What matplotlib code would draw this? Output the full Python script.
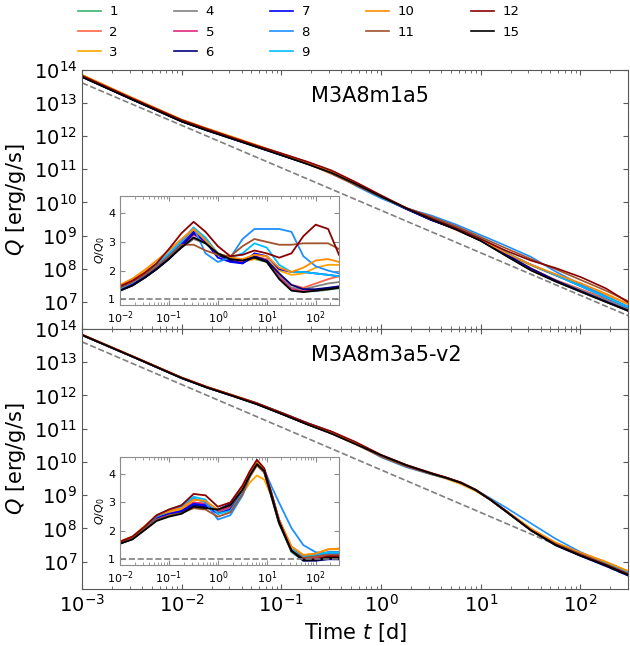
"""Heating rate Q(t) for two models, each with a Q/Q0 inset."""
import matplotlib
matplotlib.use("Agg")
import matplotlib.pyplot as plt
import numpy as np

LABELS = ["1", "2", "3", "4", "5", "6", "7", "8", "9", "10", "11", "12", "15"]
COLORS = ["mediumseagreen", "tomato", "orange", "grey", "#e0287a", "navy",
          "blue", "dodgerblue", "deepskyblue", "darkorange", "sienna",
          "darkred", "black"]

# reference power law Q0 (grey dashed line), end points
Q0_T = [1e-3, 300.0]
Q0_Q = [4.1e13, 3.8e6]

# ---- M3A8m1a5: Q/Q0 per model ----
TOP_T = [0.001, 0.0032, 0.01, 0.018, 0.032, 0.056, 0.1, 0.18, 0.32, 0.56,
         1.0, 1.8, 3.2, 5.6, 10, 18, 32, 56, 100, 180, 300]
TOP_RATIO = [
    [1.55, 1.4, 1.3, 1.5, 1.75, 2.05, 2.45, 2.85, 3.15, 2.95, 2.6, 2.4, 2.35, 2.4, 2.3, 1.75, 1.35, 1.27, 1.28, 1.33, 1.38],
    [1.6, 1.45, 1.38, 1.58, 1.85, 2.15, 2.55, 2.95, 3.3, 3.05, 2.6, 2.4, 2.35, 2.5, 2.4, 1.85, 1.5, 1.4, 1.55, 1.7, 1.8],
    [1.72, 1.55, 1.45, 1.65, 1.95, 2.25, 2.6, 3.0, 3.4, 3.1, 2.55, 2.35, 2.3, 2.4, 2.35, 2.0, 1.85, 1.9, 2.1, 2.2, 2.2],
    [1.55, 1.42, 1.33, 1.52, 1.8, 2.1, 2.45, 2.8, 3.1, 2.95, 2.6, 2.4, 2.35, 2.45, 2.35, 1.8, 1.4, 1.35, 1.45, 1.55, 1.6],
    [1.55, 1.4, 1.32, 1.52, 1.78, 2.08, 2.45, 2.85, 3.25, 3.0, 2.55, 2.35, 2.3, 2.45, 2.35, 1.75, 1.35, 1.28, 1.3, 1.35, 1.4],
    [1.5, 1.38, 1.3, 1.48, 1.75, 2.05, 2.4, 2.85, 3.3, 3.05, 2.55, 2.35, 2.25, 2.5, 2.35, 1.9, 1.5, 1.35, 1.35, 1.4, 1.45],
    [1.55, 1.42, 1.35, 1.55, 1.8, 2.1, 2.5, 2.9, 3.35, 3.0, 2.45, 2.3, 2.25, 2.6, 2.5, 2.05, 1.95, 1.95, 1.9, 1.85, 1.8],
    [1.6, 1.45, 1.38, 1.58, 1.85, 2.15, 2.55, 3.0, 3.5, 2.6, 2.3, 2.45, 3.1, 3.45, 3.45, 3.45, 3.35, 2.5, 2.15, 2.0, 1.9],
    [1.6, 1.45, 1.38, 1.6, 1.88, 2.2, 2.6, 3.05, 3.5, 3.15, 2.6, 2.45, 2.6, 2.95, 2.8, 2.2, 1.95, 1.95, 1.9, 1.85, 1.8],
    [1.75, 1.58, 1.5, 1.72, 2.02, 2.35, 2.7, 3.1, 3.45, 3.05, 2.6, 2.45, 2.4, 2.55, 2.5, 2.1, 1.95, 2.1, 2.35, 2.4, 2.3],
    [1.6, 1.45, 1.4, 1.6, 1.85, 2.15, 2.5, 2.9, 2.9, 2.7, 2.55, 2.5, 2.85, 3.1, 3.0, 2.9, 2.9, 2.95, 2.95, 2.95, 2.75],
    [1.65, 1.5, 1.45, 1.65, 1.92, 2.25, 2.75, 3.3, 3.7, 3.35, 2.85, 2.5, 2.55, 2.7, 2.6, 2.45, 2.6, 3.2, 3.6, 3.45, 2.55],
    [1.5, 1.38, 1.3, 1.48, 1.75, 2.05, 2.4, 2.8, 3.15, 2.95, 2.6, 2.4, 2.35, 2.45, 2.3, 1.7, 1.3, 1.25, 1.3, 1.35, 1.4],
]

# ---- M3A8m3a5-v2: Q/Q0 per model ----
BOT_T = [0.001, 0.0032, 0.01, 0.018, 0.032, 0.056, 0.1, 0.18, 0.32, 0.56,
         1.0, 1.8, 3.2, 4.5, 6.3, 8.9, 12.6, 17.8, 32, 56, 100, 180, 300]
BOT_RATIO = [
    [1.6, 1.6, 1.56, 1.72, 2.05, 2.4, 2.55, 2.65, 2.95, 2.9, 2.7, 2.85, 3.4, 3.95, 4.35, 4.05, 3.15, 2.25, 1.25, 0.95, 0.97, 1.05, 1.05],
    [1.62, 1.62, 1.58, 1.75, 2.1, 2.45, 2.6, 2.7, 3.0, 2.95, 2.7, 2.85, 3.45, 4.0, 4.4, 4.1, 3.25, 2.35, 1.35, 1.05, 1.05, 1.15, 1.15],
    [1.66, 1.66, 1.62, 1.8, 2.15, 2.5, 2.65, 2.75, 3.1, 3.05, 2.65, 2.75, 3.3, 3.7, 3.95, 3.8, 3.2, 2.4, 1.45, 1.15, 1.2, 1.35, 1.35],
    [1.6, 1.6, 1.57, 1.73, 2.07, 2.42, 2.55, 2.65, 2.95, 2.9, 2.65, 2.8, 3.4, 3.95, 4.35, 4.05, 3.2, 2.3, 1.3, 1.05, 1.1, 1.2, 1.2],
    [1.6, 1.6, 1.57, 1.73, 2.07, 2.42, 2.58, 2.68, 3.0, 2.95, 2.7, 2.85, 3.45, 4.0, 4.4, 4.1, 3.25, 2.3, 1.3, 1.0, 1.05, 1.1, 1.1],
    [1.6, 1.6, 1.55, 1.72, 2.05, 2.4, 2.55, 2.65, 2.9, 2.85, 2.75, 2.95, 3.5, 4.0, 4.4, 4.1, 3.2, 2.3, 1.3, 0.95, 0.95, 1.0, 1.0],
    [1.62, 1.62, 1.58, 1.75, 2.1, 2.45, 2.6, 2.7, 2.95, 2.9, 2.6, 2.75, 3.35, 3.95, 4.35, 4.1, 3.3, 2.4, 1.35, 1.1, 1.15, 1.25, 1.25],
    [1.62, 1.62, 1.58, 1.76, 2.12, 2.5, 2.7, 2.85, 3.15, 3.0, 2.4, 2.55, 3.25, 3.9, 4.35, 4.15, 3.55, 3.0, 2.1, 1.5, 1.25, 1.2, 1.2],
    [1.63, 1.63, 1.6, 1.78, 2.15, 2.55, 2.75, 2.9, 3.2, 3.1, 2.6, 2.7, 3.35, 3.95, 4.4, 4.15, 3.3, 2.35, 1.35, 1.1, 1.15, 1.25, 1.25],
    [1.66, 1.66, 1.63, 1.8, 2.17, 2.55, 2.7, 2.8, 3.1, 3.05, 2.75, 2.9, 3.5, 4.05, 4.45, 4.15, 3.3, 2.4, 1.45, 1.15, 1.2, 1.35, 1.38],
    [1.6, 1.6, 1.57, 1.73, 2.07, 2.4, 2.55, 2.62, 2.8, 2.75, 2.5, 2.65, 3.3, 3.9, 4.3, 4.05, 3.2, 2.3, 1.3, 1.05, 1.1, 1.15, 1.15],
    [1.66, 1.66, 1.62, 1.8, 2.15, 2.55, 2.75, 2.9, 3.3, 3.25, 2.85, 3.0, 3.6, 4.1, 4.5, 4.2, 3.3, 2.35, 1.3, 1.0, 1.0, 1.1, 1.1],
    [1.6, 1.6, 1.55, 1.7, 2.03, 2.35, 2.5, 2.6, 2.85, 2.8, 2.75, 2.9, 3.45, 3.95, 4.35, 4.1, 3.2, 2.3, 1.3, 0.98, 0.98, 1.05, 1.05],
]

PANELS = [("M3A8m1a5", TOP_T, TOP_RATIO), ("M3A8m3a5-v2", BOT_T, BOT_RATIO)]

SPINE = "0.35"
INSET_SPINE = "0.55"


def q0(t):
    """Power law through the two Q0 end points."""
    slope = np.log(Q0_Q[1] / Q0_Q[0]) / np.log(Q0_T[1] / Q0_T[0])
    return Q0_Q[0] * (np.asarray(t) / Q0_T[0]) ** slope


def style(ax, color, size):
    for s in ax.spines.values():
        s.set_color(color)
    ax.tick_params(which="both", direction="in", top=True, right=True,
                   color=color, labelsize=size)


def draw_panel(ax, inset, name, t, ratios):
    ax.plot(Q0_T, Q0_Q, ls="--", color="grey", lw=1.2)
    for lab, col, r in zip(LABELS, COLORS, ratios):
        ax.plot(t, q0(t) * np.array(r), color=col, lw=1.2, label=lab)
        inset.plot(t, r, color=col, lw=1.3)
    ax.set_xscale("log"); ax.set_yscale("log")
    ax.set_xlim(1e-3, 300); ax.set_ylim(1.5e6, 1e14)
    ax.set_yticks([1e7, 1e8, 1e9, 1e10, 1e11, 1e12, 1e13, 1e14])
    ax.set_ylabel("$Q$ [erg/g/s]", fontsize=15)
    style(ax, SPINE, 14)
    ax.text(0.42, 0.9, name, transform=ax.transAxes, fontsize=15,
            ha="left", va="center")

    inset.axhline(1, ls="--", color="grey", lw=1.2)
    inset.set_xscale("log")
    inset.set_xlim(1e-2, 300); inset.set_ylim(0.8, 4.6)
    inset.set_xticks([1e-2, 1e-1, 1, 10, 100])
    inset.set_yticks([1, 2, 3, 4])
    inset.set_ylabel("$Q/Q_0$", fontsize=8, labelpad=1)
    style(inset, INSET_SPINE, 8)


def main():
    fig = plt.figure(figsize=(6.3, 6.46), dpi=100)
    ax_top = fig.add_axes([0.1302, 0.4907, 0.8667, 0.4009])
    ax_bot = fig.add_axes([0.1302, 0.0882, 0.8667, 0.4025])
    in_top = fig.add_axes([0.1905, 0.5279, 0.3476, 0.1687])
    in_bot = fig.add_axes([0.1905, 0.1254, 0.3476, 0.1672])

    for (name, t, ratios), ax, inset in zip(PANELS, [ax_top, ax_bot], [in_top, in_bot]):
        draw_panel(ax, inset, name, t, ratios)

    ax_top.tick_params(labelbottom=False)
    ax_bot.set_xlabel("Time $t$ [d]", fontsize=15)

    handles, labels = ax_top.get_legend_handles_labels()
    fig.legend(handles, labels, ncol=5, loc="upper left",
               bbox_to_anchor=(0.115, 1.0), borderaxespad=0, frameon=False,
               fontsize=9.5, columnspacing=4.24, handlelength=1.75,
               handletextpad=0.65, labelspacing=0.55)

    fig.savefig("out.png", dpi=100)
    plt.close(fig)


if __name__ == "__main__":
    main()
